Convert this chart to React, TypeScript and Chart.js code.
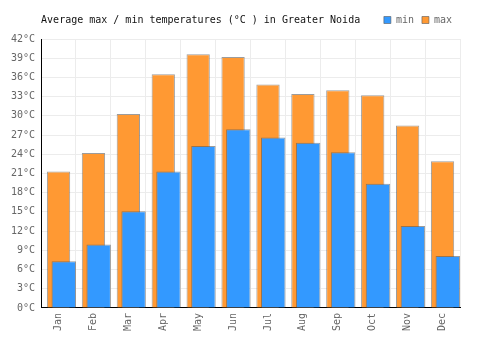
import React, { useEffect, useRef } from "react";
import { Chart, registerables } from "chart.js";

Chart.register(...registerables);

const months = ["Jan", "Feb", "Mar", "Apr", "May", "Jun", "Jul", "Aug", "Sep", "Oct", "Nov", "Dec"];
const minTemps = [7.3, 9.9, 15.1, 21.3, 25.3, 27.9, 26.6, 25.8, 24.3, 19.4, 12.8, 8.1];
const maxTemps = [21.3, 24.2, 30.3, 36.5, 39.6, 39.2, 34.9, 33.4, 34.0, 33.2, 28.5, 22.9];
const yMin = 0;
const yMax = 42;
const yStep = 3;
const minShift = 0.15;
const titleText = "Average max / min temperatures (°C ) in Greater Noida";

const FONT = "'DejaVu Sans Mono', monospace";

export default function App() {
  const ref = useRef<HTMLCanvasElement | null>(null);

  useEffect(() => {
    document.body.style.margin = "0";
    const canvas = ref.current;
    if (!canvas) return;
    const chart = new Chart(canvas, {
      type: "bar",
      data: {
        labels: months,
        datasets: [
          {
            label: "min",
            data: minTemps.map((v, i) => ({ x: i + minShift, y: v })),
            xAxisID: "x2",
            order: 0,
            grouped: false,
            backgroundColor: "#3399ff",
            borderColor: "rgba(90,90,90,0.6)",
            borderWidth: 1,
            categoryPercentage: 1,
            barPercentage: 0.7,
          },
          {
            label: "max",
            data: maxTemps,
            xAxisID: "x",
            order: 1,
            grouped: false,
            backgroundColor: "#ff9933",
            borderColor: "rgba(90,90,90,0.6)",
            borderWidth: 1,
            categoryPercentage: 1,
            barPercentage: 0.667,
          },
        ],
      },
      options: {
        responsive: false,
        animation: false,
        layout: { padding: { left: 5, right: 40, top: 7, bottom: 14 } },
        plugins: {
          tooltip: { enabled: false },
          title: {
            display: true,
            text: titleText,
            align: "start",
            fullSize: false,
            weight: 500,
            color: "#111",
            font: { family: FONT, size: 10, weight: "normal" },
            padding: { top: -21, bottom: 13 },
          },
          legend: {
            display: true,
            position: "top",
            align: "end",
            labels: {
              boxWidth: 7,
              boxHeight: 7,
              padding: 8,
              color: "#666",
              font: { family: FONT, size: 10 },
            },
          },
        },
        scales: {
          x: {
            type: "category",
            offset: true,
            grid: { offset: true, color: "#ececec", drawTicks: false },
            border: { color: "#000", width: 1 },
            ticks: {
              minRotation: 90,
              maxRotation: 90,
              padding: 5,
              color: "#666",
              font: { family: FONT, size: 10 },
            },
          },
          x2: {
            type: "linear",
            display: false,
            offset: false,
            min: -0.5,
            max: months.length - 0.5,
          },
          y: {
            min: yMin,
            max: yMax,
            grid: { color: "#ececec", drawTicks: false },
            border: { color: "#000", width: 1 },
            ticks: {
              stepSize: yStep,
              padding: 6,
              color: "#666",
              font: { family: FONT, size: 10 },
              callback: (v: any) => v + "°C",
            },
          },
        },
      },
    } as any);
    return () => chart.destroy();
  }, []);

  return (
    <div style={{ width: 500, height: 350 }}>
      <canvas ref={ref} width={500} height={350} style={{ display: "block", width: 500, height: 350 }} />
    </div>
  );
}
